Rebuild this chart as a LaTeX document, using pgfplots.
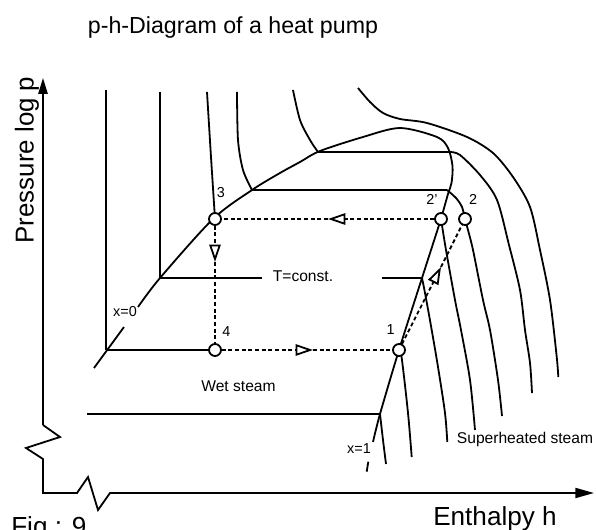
\documentclass[border=0pt]{standalone}
\usepackage{pgfplots}
\pgfplotsset{compat=1.18}
\usepackage{fontspec}
\setmainfont{Liberation Sans}
\usetikzlibrary{arrows.meta}
\begin{document}
\begin{tikzpicture}
\begin{axis}[
  scale only axis, width=447pt, height=397.5pt,
  xmin=0, xmax=596, ymin=0, ymax=530, y dir=reverse,
  hide axis, clip=false,
  every axis plot/.append style={black, line width=1.35pt},
]
% axes with breaks
\addplot[black, -{Triangle[length=12pt,width=7pt]}] coordinates {(43,425) (43,78)};
\addplot[black, -{Triangle[length=14pt,width=7.5pt]}] coordinates {(43,425) (60,437) (26,448) (43,459) (43,493) (77,493) (88,477) (98,510) (110,493) (594,493)};
% liquid-region isotherms
\addplot[black] coordinates {(106,90) (106,350)};
\addplot[black] coordinates {(160,92) (160,278)};
\addplot[black, smooth] coordinates {(207,92) (211,157) (215,219)};
\addplot[black, smooth] coordinates {(237,92) (238,140) (243,170) (252,190)};
\addplot[black, smooth] coordinates {(293,90) (300,120) (310,140) (318,152)};
% top supercritical curve
\addplot[black, smooth] coordinates {(358,88) (370,102) (383,113) (400,119) (427,123) (467,137) (493,153) (513,177) (530,207) (540,250) (550,300) (556.7,356.7) (558.3,377)};
% horizontal isotherms in wet region
\addplot[black] coordinates {(318,152) (450,152)};
\addplot[black] coordinates {(252,190) (447,190)};
\addplot[black] coordinates {(160,278) (262,278)};
\addplot[black] coordinates {(382,278) (422,278)};
\addplot[black] coordinates {(106,350) (215,350)};
\addplot[black] coordinates {(87,414) (380,414)};
% superheated isotherms
\addplot[black, smooth] coordinates {(450,152) (460,155) (480,175) (497,200) (509,245) (520,290) (525,330) (530,363) (532,393)};
\addplot[black, smooth] coordinates {(447,190) (456,198) (462,207) (465,219) (468,230) (473,250) (483,300) (490,330) (498,380) (502,416)};
\addplot[black, smooth] coordinates {(441,219) (446,250) (455,300) (461,330) (470,380) (475,430)};
\addplot[black, smooth] coordinates {(422,278) (425,293) (431,326) (438,367) (445,413) (447.3,442)};
\addplot[black, smooth] coordinates {(399,350) (401.7,358) (408,413) (411.7,457)};
\addplot[black, smooth] coordinates {(380,414) (383,440) (386,464)};
% saturation dome
\addplot[black] coordinates {(94,368) (124,327)};
\addplot[black, smooth] coordinates {(138,307) (160,278) (213,219) (252,190) (280,173) (300,162) (320,151) (363,137) (400,128) (437,137) (448,148) (452.5,166) (451.5,183) (448,194) (441,219)};
\addplot[black, smooth] coordinates {(441,219) (422,278) (399,350) (380,414) (373,442)};
\addplot[black] coordinates {(368.3,461.7) (366.7,471.7)};
% cycle (dashed with arrows)
\addplot[black, dash pattern=on 3pt off 2pt, -{Triangle[open, length=13pt, width=8.5pt]}] coordinates {(441,219) (328,219)};
\addplot[black, dash pattern=on 3pt off 2pt] coordinates {(328,219) (215,219)};
\addplot[black, dash pattern=on 3pt off 2pt, -{Triangle[open, length=13pt, width=8.5pt]}] coordinates {(215,219) (215,262)};
\addplot[black, dash pattern=on 3pt off 2pt] coordinates {(215,262) (215,350)};
\addplot[black, dash pattern=on 3pt off 2pt, -{Triangle[open, length=13pt, width=8.5pt]}] coordinates {(215,350) (313,350)};
\addplot[black, dash pattern=on 3pt off 2pt] coordinates {(313,350) (399,350)};
\addplot[black, dash pattern=on 3pt off 2pt, -{Triangle[open, length=13pt, width=8.5pt]}] coordinates {(399,350) (441,267)};
\addplot[black, dash pattern=on 3pt off 2pt] coordinates {(441,267) (465,219)};
% state points
\addplot[black, only marks, mark=*, mark size=4.5pt, mark options={fill=white, draw=black, line width=1.35pt, solid}] coordinates {(215,219) (441,219) (465,219) (215,350) (399,350)};
% texts
\node[anchor=base, font=\fontsize{17.4}{20}\selectfont] at (axis cs:233,33.3) {p-h-Diagram of a heat pump};
\node[rotate=90, anchor=base, font=\fontsize{19.4}{22}\selectfont] at (axis cs:33.5,160) {Pressure log p};
\node[anchor=base, font=\fontsize{19.6}{22}\selectfont] at (axis cs:495,525.6) {Enthalpy h};
\node[anchor=base west, inner sep=0pt, font=\fontsize{19.6}{22}\selectfont] at (axis cs:11,535.6) {Fig.: 9};
\node[anchor=base, inner sep=0pt, font=\fontsize{10.8}{12}\selectfont] at (axis cs:221,198) {3};
\node[anchor=base, inner sep=0pt, font=\fontsize{10.8}{12}\selectfont] at (axis cs:432,205) {2'};
\node[anchor=base, inner sep=0pt, font=\fontsize{10.8}{12}\selectfont] at (axis cs:473,205) {2};
\node[anchor=base, inner sep=0pt, font=\fontsize{10.8}{12}\selectfont] at (axis cs:390.5,335) {1};
\node[anchor=base, inner sep=0pt, font=\fontsize{10.8}{12}\selectfont] at (axis cs:226.5,337) {4};
\node[anchor=base, inner sep=0pt, font=\fontsize{10.8}{12}\selectfont] at (axis cs:125,317) {x=0};
\node[anchor=base, inner sep=0pt, font=\fontsize{10.8}{12}\selectfont] at (axis cs:359,453) {x=1};
\node[anchor=base, inner sep=0pt, font=\fontsize{11.7}{13}\selectfont] at (axis cs:303,282) {T=const.};
\node[anchor=base, inner sep=0pt, font=\fontsize{11.7}{13}\selectfont] at (axis cs:238.5,392) {Wet steam};
\node[anchor=base, inner sep=0pt, font=\fontsize{11.7}{13}\selectfont] at (axis cs:525,443.3) {Superheated steam};
\end{axis}
\pgfresetboundingbox
\path[use as bounding box] (current axis.south west) rectangle (current axis.north east);
\end{tikzpicture}
\end{document}
